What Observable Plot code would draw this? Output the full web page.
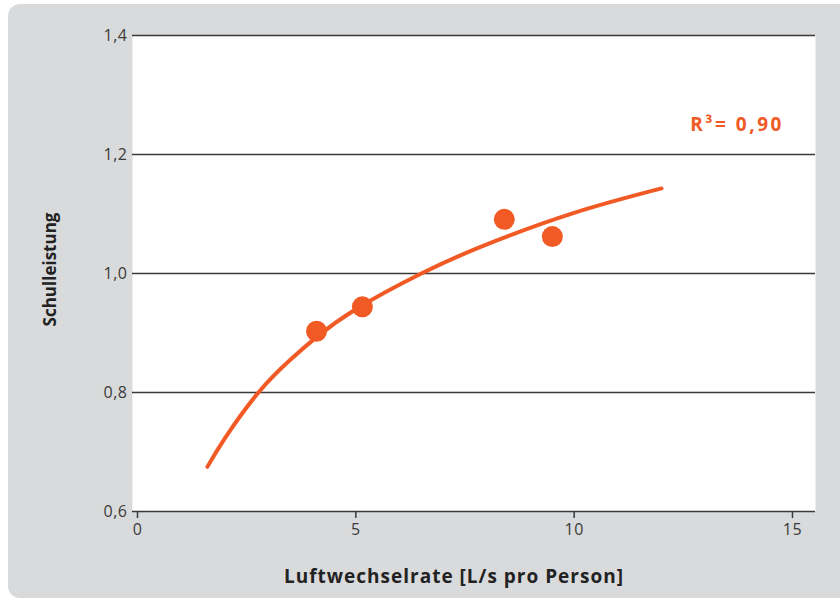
<!DOCTYPE html>
<html><head><meta charset="utf-8">
<script src="https://cdn.jsdelivr.net/npm/d3@7"></script>
<script src="https://cdn.jsdelivr.net/npm/@observablehq/plot@0.6"></script>
<style>
body{margin:0;background:#fff;}
#wrap{position:relative;width:840px;height:602px;overflow:hidden;}
#bg{position:absolute;left:8px;top:4px;width:850px;height:594px;background:#d9dadc;border-radius:12px;}
#chart{position:absolute;left:0;top:0;}
</style></head><body>
<div id="wrap"><div id="bg"></div><div id="chart"></div></div>
<script>
const pointX = [4.1, 5.15, 8.4, 9.5];
const pointY = [0.903, 0.944, 1.091, 1.062];
const curveX = [1.6, 2, 2.77, 3.5, 4.1, 5, 6.5, 8, 10, 12];
const curveY = [0.675, 0.723, 0.80, 0.855, 0.893, 0.94, 1.0, 1.049, 1.102, 1.143];
const xTicks = [0, 5, 10, 15];
const yTicks = [0.6, 0.8, 1.0, 1.2, 1.4];
const xLabel = "Luftwechselrate [L/s pro Person]";
const yLabel = "Schulleistung";
const annotationText = "R³= 0,90";
const annotationX = 12.66;
const annotationY = 1.25;

const orange = "#f15a24";
const points = pointX.map((x, i) => ({x, y: pointY[i]}));
const curve = curveX.map((x, i) => ({x, y: curveY[i]}));
const fmt = d => d.toFixed(1).replace(".", ",");

const chart = Plot.plot({
  width: 840,
  height: 602,
  marginLeft: 132,
  marginRight: 25,
  marginTop: 35,
  marginBottom: 91,
  style: {background: "transparent", fontFamily: "'Open Sans', sans-serif", fontSize: "16px", color: "#3a3a3a"},
  x: {domain: [0, 15], insetLeft: 5, insetRight: 23},
  y: {domain: [0.6, 1.4]},
  marks: [
    Plot.frame({fill: "white", stroke: null}),
    Plot.ruleY(yTicks, {stroke: "#3a3a3a", strokeWidth: 1.5}),
    Plot.axisY({ticks: yTicks, tickSize: 0, tickPadding: 5, fontSize: 16, label: null, tickFormat: fmt}),
    Plot.axisX({ticks: xTicks, tickSize: 7, tickPadding: 5, fontSize: 16, label: null, stroke: "#3a3a3a", strokeWidth: 1.5}),
    Plot.text([yLabel], {frameAnchor: "left", dx: -82, dy: -4, rotate: -90, textAnchor: "middle", fontSize: 17, fontWeight: "bold", fill: "#222"}),
    Plot.text([xLabel], {frameAnchor: "bottom", dy: 65, dx: -20, lineAnchor: "middle", fontSize: 19, fontWeight: "bold", fill: "#222"}),
    Plot.line(curve, {x: "x", y: "y", curve: "natural", stroke: orange, strokeWidth: 4}),
    Plot.dot(points, {x: "x", y: "y", r: 10.5, fill: orange}),
    Plot.text([annotationText], {x: () => annotationX, y: () => annotationY, textAnchor: "start", fontSize: 19, fontWeight: "bold", fill: orange})
  ]
});
const tickTexts = new Set([...yTicks.map(fmt), ...xTicks.map(String)]);
d3.select(chart).selectAll("text").each(function() {
  const t = this.textContent;
  if (t === xLabel) this.style.letterSpacing = "1px";
  else if (t === annotationText) this.style.letterSpacing = "2.5px";
  else if (tickTexts.has(t)) { this.style.letterSpacing = "0.5px"; this.style.fontSize = "16px"; }
});
document.getElementById("chart").appendChild(chart);
</script>
</body></html>
